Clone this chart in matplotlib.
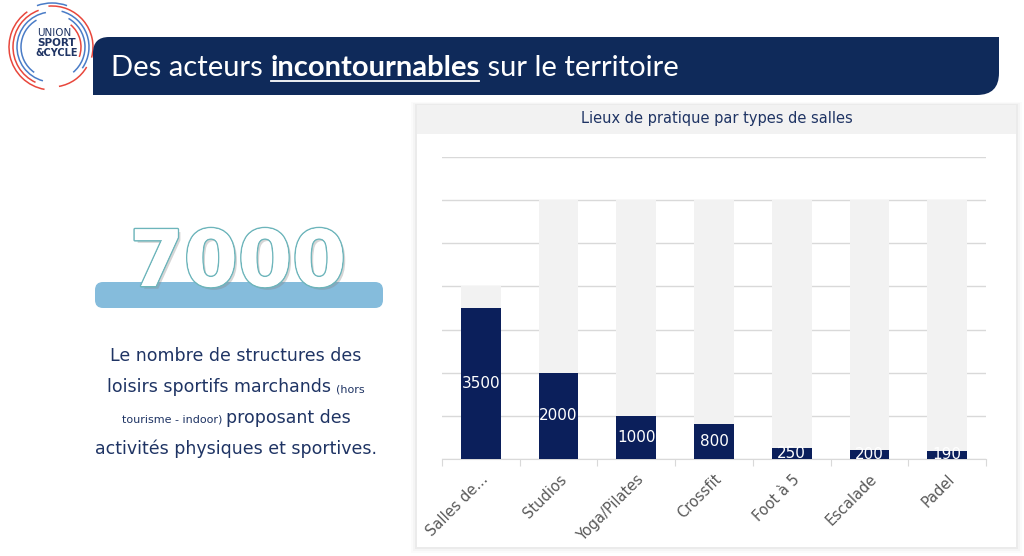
import matplotlib
matplotlib.use('Agg')
import matplotlib.pyplot as plt
from matplotlib.patches import Rectangle, FancyBboxPatch, Arc, PathPatch
from matplotlib.path import Path
import matplotlib.patheffects as pe

# données du graphique
categories = ['Salles de...', 'Studios', 'Yoga/Pilates', 'Crossfit', 'Foot à 5', 'Escalade', 'Padel']
valeurs = [3500, 2000, 1000, 800, 250, 200, 190]
fond = [4000, 6000, 6000, 6000, 6000, 6000, 6000]
y_ticks = [0, 1000, 2000, 3000, 4000, 5000, 6000, 7000]

navy = '#0f2a5a'
bar_col = '#0b1f5b'
txt_col = '#1f3464'

fig = plt.figure(figsize=(10.24, 5.56), dpi=100)

# axe de fond en pixels pour le décor
bg = fig.add_axes([0, 0, 1, 1])
bg.set_xlim(0, 1024)
bg.set_ylim(556, 0)
bg.axis('off')

# logo
cx, cy = 52, 47
for r, t1, t2, c in [(43, 100, 235, '#e8473c'), (39, 115, 250, '#e8473c'), (35, 105, 260, '#4a7cc7'),
                     (31, 125, 240, '#4a7cc7'), (41, -95, 15, '#e8473c'), (37, -75, 35, '#4a7cc7'),
                     (33, -60, 50, '#4a7cc7'), (29, -50, 20, '#e8473c'), (44, 250, 290, '#4a7cc7'),
                     (40, 30, 80, '#e8473c')]:
    bg.add_patch(Arc((cx, cy), 2 * r, 2 * r, theta1=t1, theta2=t2, color=c, lw=1.1))
bg.text(54, 33, 'UNION', fontsize=7.5, color=txt_col, ha='center', va='center', family='DejaVu Sans')
bg.text(57, 43, 'SPORT', fontsize=7.5, color=txt_col, ha='center', va='center', weight='bold', family='DejaVu Sans')
bg.text(57, 53, '&CYCLE', fontsize=7, color=txt_col, ha='center', va='center', weight='bold', family='DejaVu Sans')

# bandeau titre (haut gauche arrondi, bas droit arrondi)
x0, x1, y0, y1, r1, r2 = 93, 999, 37, 95, 16, 22
verts = [(x0, y1), (x0, y0 + r1), (x0, y0), (x0 + r1, y0), (x1, y0), (x1, y1 - r2), (x1, y1), (x1 - r2, y1), (x0, y1)]
codes = [Path.MOVETO, Path.LINETO, Path.CURVE3, Path.CURVE3, Path.LINETO, Path.LINETO, Path.CURVE3, Path.CURVE3, Path.CLOSEPOLY]
bg.add_patch(PathPatch(Path(verts, codes), facecolor=navy, edgecolor='none'))

r = fig.canvas.get_renderer()
parts = [('Des acteurs ', 'normal', False), ('incontournables', 'bold', True), (' sur le territoire', 'normal', False)]
xx = 111
for s, w, u in parts:
    t = bg.text(xx, 76, s, fontsize=21, color='white', weight=w, va='baseline', ha='left', family='Lato')
    bb = t.get_window_extent(renderer=r)
    if u:
        bg.plot([xx + 1, xx + bb.width - 1], [80.5, 80.5], color='white', lw=1.3)
    xx += bb.width

# grand chiffre
bg.add_patch(FancyBboxPatch((99, 286), 280, 18, boxstyle='round,pad=4,rounding_size=8',
                            facecolor='#85bcdc', edgecolor='none'))
bg.text(238, 264, '7000', fontsize=56, color='white', ha='center', va='center', family='DejaVu Sans',
        weight='bold',
        path_effects=[pe.SimplePatchShadow(offset=(2, -2), shadow_rgbFace='#888888', alpha=0.35),
                      pe.withStroke(linewidth=2.2, foreground='#6db5bb'), pe.Normal()])

# paragraphe avec tailles mélangées
lignes = [
    [('Le nombre de structures des', 12.5)],
    [('loisirs sportifs marchands ', 12.5), ('(hors', 8)],
    [('tourisme - indoor) ', 8), ('proposant des', 12.5)],
    [('activités physiques et sportives.', 12.5)],
]
ys = [361, 392, 423, 454]
for ligne, yl in zip(lignes, ys):
    textes = [bg.text(0, yl, s, fontsize=fs, color=txt_col, va='baseline', ha='left', family='DejaVu Sans')
              for s, fs in ligne]
    larg = [t.get_window_extent(renderer=r).width for t in textes]
    xx = 236 - sum(larg) / 2
    for t, l in zip(textes, larg):
        t.set_x(xx)
        xx += l

# panneau du graphique avec ombre
for k, a in [(6, 0.015), (4, 0.025), (2, 0.04)]:
    bg.add_patch(Rectangle((417 - k, 105 - k / 2), 599 + 2 * k, 442 + 1.5 * k, facecolor='black', alpha=a, edgecolor='none'))
bg.add_patch(Rectangle((417, 105), 599, 442, facecolor='white', edgecolor='none'))
bg.add_patch(Rectangle((417, 105), 599, 29, facecolor='#f2f2f2', edgecolor='none'))
bg.text(717, 119, 'Lieux de pratique par types de salles', fontsize=10.5, color=txt_col,
        ha='center', va='center', family='DejaVu Sans')

# graphique
ax = fig.add_axes([442 / 1024, (556 - 459) / 556, 544 / 1024, 302 / 556])
ax.set_facecolor('none')
x = range(len(categories))
ax.bar(x, fond, width=0.51, color='#f2f2f2', zorder=2)
bars = ax.bar(x, valeurs, width=0.51, color=bar_col, zorder=3)
for b, v in zip(bars, valeurs):
    t = ax.text(b.get_x() + b.get_width() / 2, v / 2, str(v), color='white', fontsize=11,
                ha='center', va='center', zorder=4, family='DejaVu Sans')
    t.set_clip_path(b)

ax.set_xlim(-0.5, len(categories) - 0.5)
ax.set_ylim(0, 7000)
ax.set_yticks(y_ticks)
ax.yaxis.grid(True, color='#d9d9d9', lw=1, zorder=0)
ax.tick_params(axis='y', length=0, labelleft=False)
for s in ['top', 'right', 'left']:
    ax.spines[s].set_visible(False)
ax.spines['bottom'].set_color('#d9d9d9')
ax.set_xticks([i - 0.5 for i in range(len(categories) + 1)])
ax.set_xticklabels([])
ax.tick_params(axis='x', length=5, color='#d9d9d9')
ax.set_xticks(list(x), minor=True)
ax.set_xticklabels(categories, minor=True, rotation=45, ha='right', rotation_mode='anchor',
                   fontsize=10.5, color='#595959', family='DejaVu Sans')
ax.tick_params(axis='x', which='minor', length=0, pad=9)

fig.savefig('out.png', dpi=100)
